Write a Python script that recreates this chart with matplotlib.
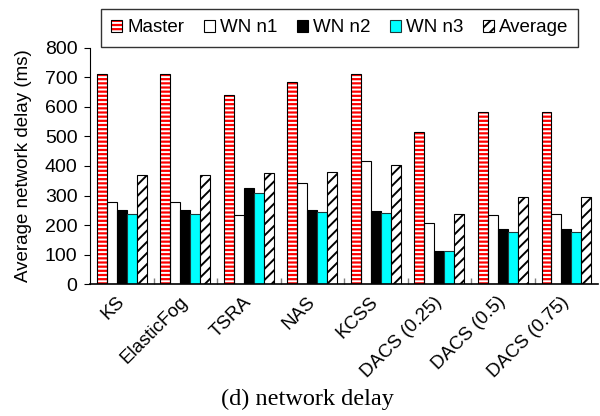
import matplotlib
matplotlib.use("Agg")
import matplotlib.pyplot as plt
import numpy as np
from matplotlib.patches import Patch
from matplotlib.legend_handler import HandlerTuple
import matplotlib.transforms as mtransforms

plt.rcParams['font.family'] = ['Liberation Sans', 'DejaVu Sans']
plt.rcParams['hatch.linewidth'] = 1.4

categories = ["KS", "ElasticFog", "TSRA", "NAS", "KCSS",
              "DACS (0.25)", "DACS (0.5)", "DACS (0.75)"]
series_names = ["Master", "WN n1", "WN n2", "WN n3", "Average"]
master = [710, 710, 640, 685, 712, 516, 582, 582]
wn_n1 = [277, 277, 235, 344, 416, 207, 234, 238]
wn_n2 = [250, 250, 325, 252, 247, 113, 185, 185]
wn_n3 = [236, 236, 309, 245, 241, 113, 178, 178]
average = [368, 368, 377, 381, 404, 237, 295, 296]
y_ticks = [0, 100, 200, 300, 400, 500, 600, 700, 800]

fig = plt.figure(figsize=(6.0, 4.16), dpi=100)
ax = fig.add_axes([0.15, 0.317, 0.847, 0.568])

x = np.arange(len(categories))
w = 0.157

# Master: red with white horizontal stripes, black outline
ax.bar(x - 2 * w, master, w, color='#ff0000', edgecolor='white',
       hatch='----', linewidth=0, zorder=2)
ax.bar(x - 2 * w, master, w, fill=False, edgecolor='black',
       linewidth=0.8, zorder=3)
# Worker nodes
ax.bar(x - w, wn_n1, w, color='white', edgecolor='black', linewidth=0.8, zorder=2)
ax.bar(x, wn_n2, w, color='black', edgecolor='black', linewidth=0.8, zorder=2)
ax.bar(x + w, wn_n3, w, color='#00ffff', edgecolor='#1a3a3a', linewidth=0.8, zorder=2)
# Average: diagonal hatch
ax.bar(x + 2 * w, average, w, color='white', edgecolor='black',
       hatch='///', linewidth=0.8, zorder=2)

ax.set_xlim(-0.5, len(categories) - 0.5)
ax.set_ylim(0, 800)
ax.set_yticks(y_ticks)
ax.tick_params(axis='y', direction='out', length=4, width=0.8, pad=5,
               labelsize=14)
ax.set_xticks(np.arange(len(categories) - 1) + 0.5)
ax.tick_params(axis='x', direction='in', length=4, width=1.0,
               color='#808080', labelbottom=False)
ax.spines['top'].set_visible(False)
ax.spines['right'].set_visible(False)
ax.spines['left'].set_linewidth(0.8)
ax.spines['bottom'].set_linewidth(1.2)

ax.set_ylabel("Average network delay (ms)", fontsize=13.5, labelpad=9)

# Rotated category labels under each group
off = mtransforms.offset_copy(ax.get_xaxis_transform(), fig=fig,
                              x=-6, y=-9, units='dots')
for xi, name in zip(x, categories):
    ax.text(xi, 0, name, transform=off, rotation=45, ha='right', va='top',
            rotation_mode='anchor', fontsize=13.5)

handles = [
    (Patch(facecolor='#ff0000', edgecolor='white', hatch='----', linewidth=0),
     Patch(fill=False, edgecolor='black', linewidth=0.8)),
    Patch(facecolor='white', edgecolor='black', linewidth=0.8),
    Patch(facecolor='black', edgecolor='black', linewidth=0.8),
    Patch(facecolor='#00ffff', edgecolor='#1a3a3a', linewidth=0.8),
    Patch(facecolor='white', edgecolor='black', hatch='///', linewidth=0.8),
]
leg = fig.legend(handles, series_names, loc='center',
                 bbox_to_anchor=(0.566, 0.933), ncol=5, fontsize=13.5,
                 frameon=True, fancybox=False, edgecolor='black',
                 handlelength=0.6, handleheight=0.6, handletextpad=0.25,
                 columnspacing=1.05, borderpad=0.55,
                 handler_map={tuple: HandlerTuple(ndivide=1)})
leg.get_frame().set_linewidth(1.0)

fig.text(0.512, 0.040, "(d) network delay", ha='center', va='center',
         fontsize=17.5, family=['Liberation Serif', 'DejaVu Serif'])

fig.savefig("out.png", dpi=100)
